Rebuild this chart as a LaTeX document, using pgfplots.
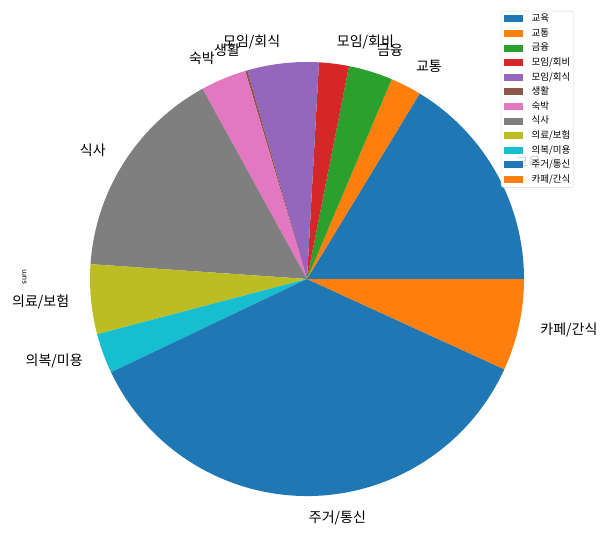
\documentclass[border=0pt]{standalone}
\usepackage{fontspec}
\usepackage{pgfplots}
\usepackage{pgfplotstable}
\pgfplotsset{compat=1.18}
\newfontfamily\kr{Noto Sans CJK KR}
\newfontfamily\dv{DejaVu Sans}
\definecolor{c0}{HTML}{1F77B4}
\definecolor{c1}{HTML}{FF7F0E}
\definecolor{c2}{HTML}{2CA02C}
\definecolor{c3}{HTML}{D62728}
\definecolor{c4}{HTML}{9467BD}
\definecolor{c5}{HTML}{8C564B}
\definecolor{c6}{HTML}{E377C2}
\definecolor{c7}{HTML}{7F7F7F}
\definecolor{c8}{HTML}{BCBD22}
\definecolor{c9}{HTML}{17BECF}
\pgfplotstableread{
label value color
교육 16.31 c0
교통 2.31 c1
금융 3.28 c2
모임/회비 2.22 c3
모임/회식 5.31 c4
생활 0.17 c5
숙박 3.39 c6
식사 15.92 c7
의료/보험 5.19 c8
의복/미용 2.97 c9
주거/통신 36.10 c0
카페/간식 6.83 c1
}\piedata
\tikzset{lbl/.style={font=\kr\fontsize{14}{16}\selectfont, inner sep=0pt}}
\begin{document}
\begin{tikzpicture}
\begin{axis}[
  x=217pt, y=217pt,
  xmin=-1.4147, xmax=1.3917, ymin=-1.2857, ymax=1.2857,
  hide axis, clip=false,
  legend cell align=left,
  legend image code/.code={\fill[#1, draw=none, fill opacity=1, sharp corners] (0pt,-3.5pt) rectangle (19pt,3.5pt);},
  legend style={at={(axis cs:1.2304,1.2350)}, anchor=north east,
    font=\kr\fontsize{9.5}{11}\selectfont,
    draw=black!15, rounded corners=2pt, fill=white, fill opacity=0.8,
    text opacity=1, draw opacity=1, inner sep=2.5pt, row sep=4.1pt,
    nodes={inner sep=1pt, text height=7pt, text depth=1.5pt},
    /tikz/every odd column/.append style={column sep=8pt}},
]
\path (axis cs:-1.4147,-1.2857) rectangle (axis cs:1.3917,1.2857);
\pgfmathsetmacro\total{0}
\pgfplotsforeachungrouped \i in {0,...,11}{%
  \pgfplotstablegetelem{\i}{value}\of\piedata
  \pgfmathsetmacro\total{\total+\pgfplotsretval}%
}
\pgfmathsetmacro\cum{0}
\pgfplotsforeachungrouped \i in {0,...,11}{%
  \pgfplotstablegetelem{\i}{value}\of\piedata \let\pval\pgfplotsretval
  \pgfplotstablegetelem{\i}{label}\of\piedata \let\plab\pgfplotsretval
  \pgfplotstablegetelem{\i}{color}\of\piedata \let\pcol\pgfplotsretval
  \pgfmathsetmacro\angA{\cum/\total*360}%
  \pgfmathsetmacro\cum{\cum+\pval}%
  \pgfmathsetmacro\angB{\cum/\total*360}%
  \pgfmathsetmacro\angM{(\angA+\angB)/2}%
  \pgfmathsetmacro\lx{1.1*cos(\angM)}%
  \pgfmathsetmacro\ly{1.1*sin(\angM)}%
  \ifdim\lx pt<0pt \def\anc{east}\else\def\anc{west}\fi
  \edef\cmd{%
    \noexpand\fill[\pcol] (axis cs:0,0) -- ++(\angA:217pt) arc[start angle=\angA, end angle=\angB, radius=217pt] -- cycle;
    \noexpand\node[lbl, anchor=\anc] at (axis cs:\lx,\ly) {\plab};
    \noexpand\addlegendimage{fill=\pcol}
    \noexpand\addlegendentry{\plab}
  }\cmd
}
\node[font=\dv\fontsize{7}{8}\selectfont, rotate=90, inner sep=0pt] at (axis cs:-1.3018,0.0092) {sum};
\end{axis}
\end{tikzpicture}
\end{document}
